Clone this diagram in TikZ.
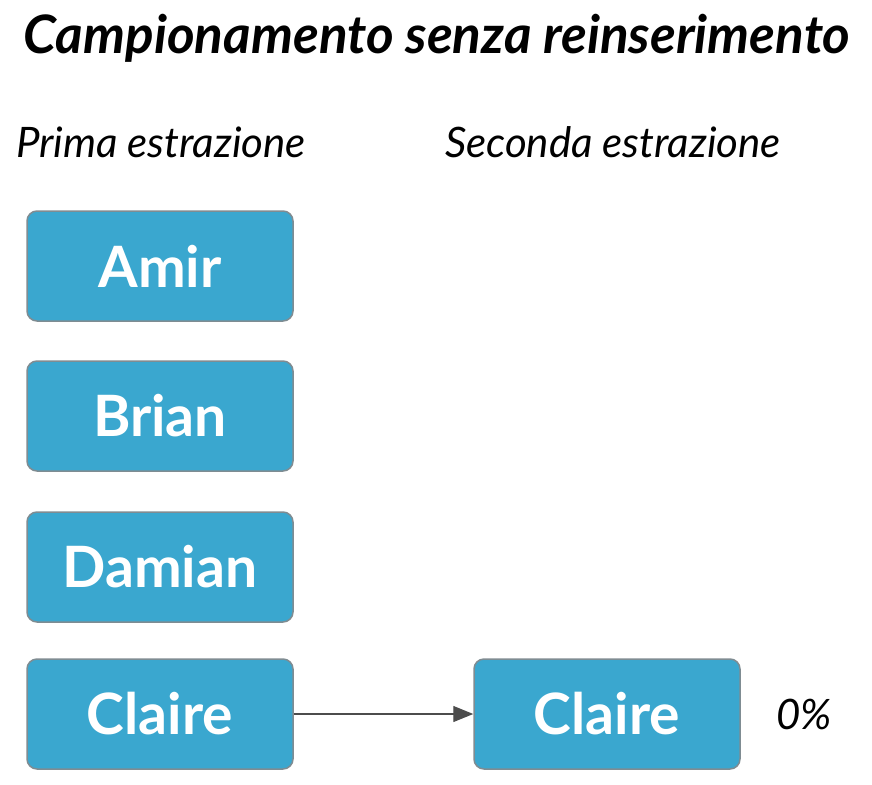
\documentclass[tikz,border=0pt]{standalone}
\usepackage{fontspec}
\setmainfont{Lato}
\usetikzlibrary{positioning,arrows.meta}
\definecolor{boxblue}{HTML}{3AA7CF}
\definecolor{boxline}{HTML}{7F8C92}
\tikzset{%
    nome/.style={draw=boxline,line width=1.5pt,fill=boxblue,rounded corners=10pt,minimum width=266pt,minimum height=110pt,text=white,font=\fontsize{57}{60}\selectfont\bfseries},
    freccia/.style={-{Triangle[length=20pt,width=16pt]},draw=black!70,line width=1.3pt},
}
\begin{document}
\begin{tikzpicture}[x=1pt,y=-1pt]
\useasboundingbox (0,0) rectangle (872,784);

% titles
\node (titolo) at (437,38) {\fontsize{53}{56}\selectfont\bfseries\itshape Campionamento senza reinserimento};
\node (prima) at (161,142) {\fontsize{42}{46}\selectfont\itshape Prima estrazione};
\node (seconda) at (613,142) {\fontsize{42}{46}\selectfont\itshape Seconda estrazione};

% first draw
\node [nome] (amir) at (160,266) {Amir};
\node [nome] (brian) at (160,416) {Brian};
\node [nome] (damian) at (160,567) {Damian};
\node [nome] (claire) at (160,714) {Claire};

% second draw
\node [nome] (claire2) at (607,714) {Claire};
\draw [freccia] (claire) -- (claire2);
\node [right=32pt of claire2] (perc) {\fontsize{42}{46}\selectfont\itshape 0\%};

\end{tikzpicture}
\end{document}
